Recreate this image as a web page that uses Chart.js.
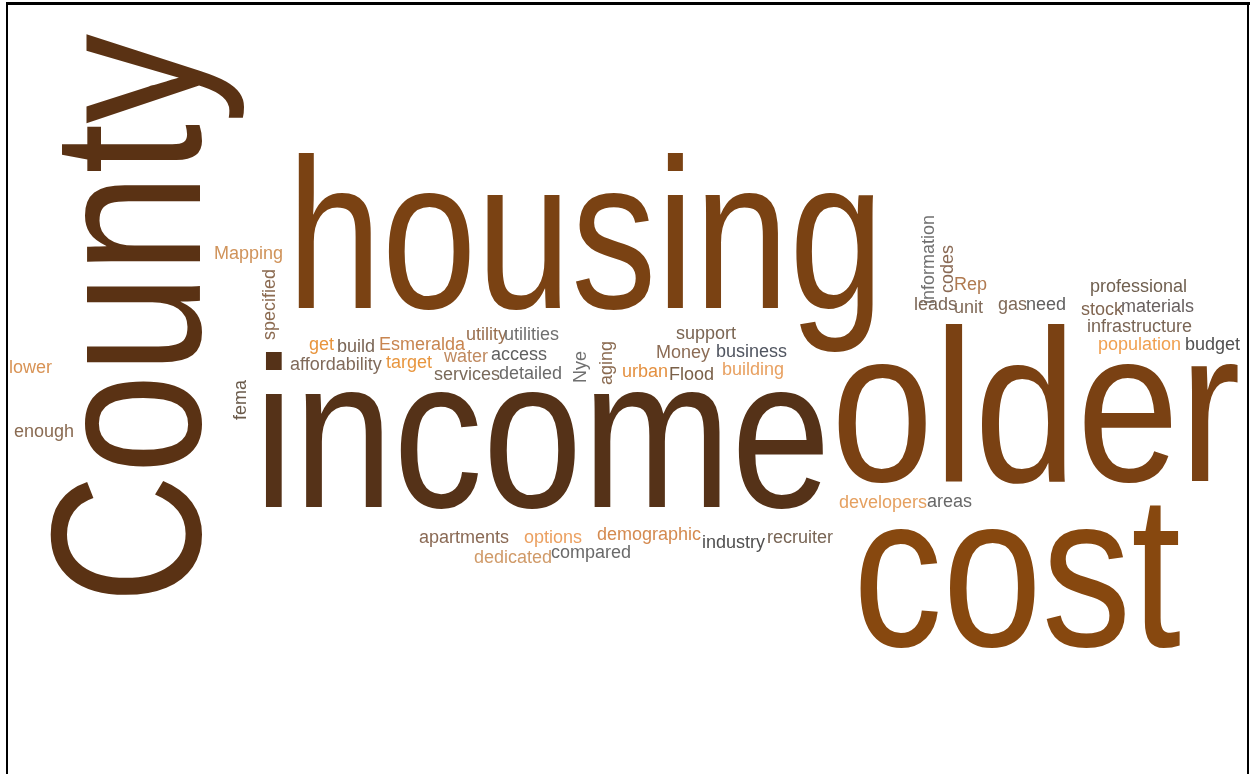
<!DOCTYPE html>
<html>
<head>
<meta charset="utf-8">
<script src="https://cdn.jsdelivr.net/npm/chart.js@4.4.1/dist/chart.umd.min.js"></script>
<style>
  html, body { margin: 0; padding: 0; background: #fff; }
  #cloud { display: block; }
</style>
</head>
<body>
<canvas id="cloud" width="1250" height="774"></canvas>
<script>
// words of the cloud and how often each one occurs
const words = [
  'County', 'housing', 'income', 'older', 'cost',
  'Mapping', 'specified', 'fema', 'lower', 'enough',
  'get', 'build', 'Esmeralda', 'utility', 'utilities',
  'affordability', 'target', 'water', 'access', 'services', 'detailed',
  'Nye', 'aging', 'support', 'Money', 'business', 'urban', 'Flood', 'building',
  'information', 'codes', 'Rep', 'leads', 'unit', 'gas', 'need',
  'professional', 'stock', 'materials', 'infrastructure', 'population', 'budget',
  'developers', 'areas', 'apartments', 'options', 'demographic', 'industry',
  'recruiter', 'dedicated', 'compared'
];
const counts = [
  40, 40, 40, 41, 41,
  1, 1, 1, 1, 1,
  1, 1, 1, 1, 1,
  1, 1, 1, 1, 1, 1,
  1, 1, 1, 1, 1, 1, 1, 1,
  1, 1, 1, 1, 1, 1, 1,
  1, 1, 1, 1, 1, 1,
  1, 1, 1, 1, 1, 1,
  1, 1, 1
];

// layout of the cloud on a 1250 x 774 plane (baseline start of each word)
const posX = [
  200, 287, 254, 831, 853,
  214, 275, 246, 9, 14,
  309, 337, 379, 466, 504,
  290, 386, 444, 491, 434, 499,
  586, 612, 676, 656, 716, 622, 669, 722,
  934, 953, 954, 914, 954, 998, 1026,
  1090, 1081, 1121, 1087, 1098, 1185,
  839, 927, 419, 524, 597, 702,
  767, 474, 551
];
const posY = [
  604, 308, 507, 481, 646,
  259, 340, 420, 373, 437,
  350, 352, 350, 340, 340,
  370, 368, 362, 360, 380, 379,
  383, 385, 339, 358, 357, 377, 380, 375,
  304, 293, 290, 310, 313, 310, 310,
  292, 315, 312, 332, 350, 350,
  508, 507, 543, 543, 540, 548,
  543, 563, 558
];
const vertical = words.map(w => ['County', 'specified', 'fema', 'Nye', 'aging', 'information', 'codes'].includes(w));

const colors = [
  '#5a3214', '#7a4213', '#553218', '#7a4113', '#87480f',
  '#d0935a', '#8b6a50', '#6a5a4a', '#d89355', '#8a6b52',
  '#e8943c', '#7a6555', '#c88550', '#9a7050', '#707070',
  '#806a5a', '#e8963f', '#c08a60', '#606060', '#7a6a5a', '#6a6a6a',
  '#707070', '#8a6a50', '#7a6552', '#8c6c55', '#505560', '#e49040', '#7a6048', '#e8a060',
  '#707070', '#8a6a55', '#b07a50', '#7a6555', '#806a58', '#806a58', '#606060',
  '#706050', '#806550', '#686060', '#7a6555', '#f0a050', '#505050',
  '#e5a060', '#686868', '#8a6a55', '#eba060', '#d48a50', '#505050',
  '#786555', '#d09a68', '#6a6a6a'
];

// the large words are set in a narrower face than the small ones
const squeezeFor = { County: 0.845, housing: 0.80, income: 0.84, older: 0.845, cost: 0.82 };

function fontSize(count) {
  return 18 + (count - 1) * 5;
}

const wordPlugin = {
  id: 'words',
  beforeDraw(chart) {
    const ctx = chart.ctx;
    ctx.save();
    ctx.fillStyle = '#000';
    ctx.fillRect(6, 2, 1244, 3);
    ctx.fillRect(6, 2, 2, 772);
    ctx.fillRect(1247, 2, 2, 772);
    ctx.restore();
  },
  afterDatasetsDraw(chart) {
    const ctx = chart.ctx;
    const meta = chart.getDatasetMeta(0);
    meta.data.forEach((pt, i) => {
      const size = fontSize(counts[i]);
      const squeeze = squeezeFor[words[i]] || 1;
      ctx.save();
      ctx.translate(pt.x, pt.y);
      if (vertical[i]) ctx.rotate(-Math.PI / 2);
      ctx.scale(squeeze, 1);
      ctx.font = size + 'px "Liberation Sans", Arial, sans-serif';
      ctx.fillStyle = colors[i];
      ctx.textAlign = 'left';
      ctx.textBaseline = 'alphabetic';
      ctx.fillText(words[i], 0, 0);
      ctx.restore();
    });
  }
};

new Chart(document.getElementById('cloud'), {
  type: 'scatter',
  data: {
    datasets: [{
      data: words.map((w, i) => ({ x: posX[i], y: posY[i] })),
      pointRadius: 0,
      pointHoverRadius: 0
    }]
  },
  options: {
    responsive: false,
    animation: false,
    layout: { padding: 0 },
    plugins: { legend: { display: false }, tooltip: { enabled: false } },
    scales: {
      x: { type: 'linear', min: 0, max: 1250, display: false },
      y: { type: 'linear', min: 0, max: 774, reverse: true, display: false }
    }
  },
  plugins: [wordPlugin]
});
</script>
</body>
</html>
